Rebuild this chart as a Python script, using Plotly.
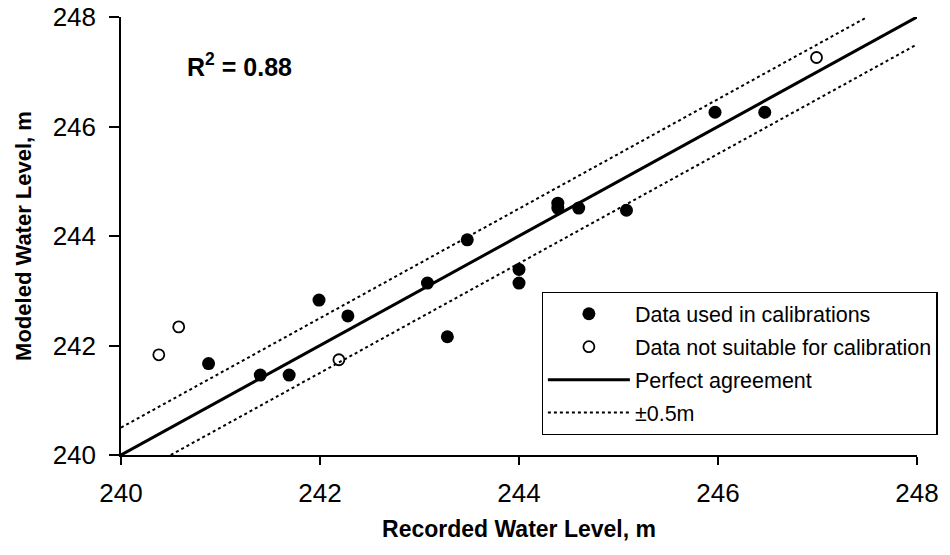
import plotly.graph_objects as go

# Calibration data (recorded vs modeled water level, m)
used_recorded = [240.88, 241.40, 241.69, 241.99, 242.28, 243.08, 243.28, 243.48,
                 244.00, 244.00, 244.39, 244.39, 244.60, 245.08, 245.97, 246.47]
used_modeled = [241.67, 241.46, 241.46, 242.83, 242.54, 243.14, 242.16, 243.93,
                243.39, 243.14, 244.60, 244.51, 244.51, 244.47, 246.26, 246.26]

unsuitable_recorded = [240.38, 240.58, 242.19, 246.99]
unsuitable_modeled = [241.83, 242.34, 241.74, 247.26]

perfect_x = [240, 248]
perfect_y = [240, 248]
tolerance = 0.5

x_ticks = [240, 242, 244, 246, 248]
y_ticks = [240, 242, 244, 246, 248]

FONT = "Liberation Sans, Arial, sans-serif"

fig = go.Figure()

fig.add_trace(go.Scatter(
    x=used_recorded, y=used_modeled, mode="markers",
    name="Data used in calibrations", legendgroup="a",
    marker=dict(symbol="circle", size=13, color="black"),
))
fig.add_trace(go.Scatter(
    x=unsuitable_recorded, y=unsuitable_modeled, mode="markers",
    name="Data not suitable for calibration", legendgroup="b",
    marker=dict(symbol="circle-open", size=11, color="black", line=dict(width=1.8)),
))
fig.add_trace(go.Scatter(
    x=perfect_x, y=perfect_y, mode="lines",
    name="Perfect agreement", legendgroup="c",
    line=dict(color="black", width=3),
))
# upper and lower tolerance bands
fig.add_trace(go.Scatter(
    x=[perfect_x[0], perfect_x[1] - tolerance],
    y=[perfect_y[0] + tolerance, perfect_y[1]],
    mode="lines", name="±0.5m", legendgroup="d",
    line=dict(color="black", width=2, dash="dot"),
))
fig.add_trace(go.Scatter(
    x=[perfect_x[0] + tolerance, perfect_x[1]],
    y=[perfect_y[0], perfect_y[1] - tolerance],
    mode="lines", name="±0.5m", legendgroup="d", showlegend=False,
    line=dict(color="black", width=2, dash="dot"),
))

fig.add_annotation(
    x=240.64, y=247.12, xref="x", yref="y", showarrow=False, xanchor="left",
    text="<b>R<sup>2</sup> = 0.88</b>", font=dict(family=FONT, size=25, color="black"),
)

axis_common = dict(
    showgrid=False, zeroline=False, showline=True, linecolor="black", linewidth=1.5,
    ticks="outside", tickcolor="black", tickwidth=1.5, automargin=False,
    tickfont=dict(family=FONT, size=26, color="black"),
)

fig.update_xaxes(
    range=[240, 248], tickvals=x_ticks, ticklen=8, ticklabelstandoff=6,
    title=dict(text="<b>Recorded Water Level, m</b>",
               font=dict(family=FONT, size=23, color="black"), standoff=14),
    **axis_common,
)
fig.update_yaxes(
    range=[240, 248], tickvals=y_ticks, ticklen=10, ticklabelstandoff=8,
    title=dict(text="<b>Modeled Water Level, m</b>",
               font=dict(family=FONT, size=22, color="black"), standoff=15),
    **axis_common,
)

fig.update_layout(
    width=950, height=555,
    margin=dict(l=121, r=27, t=17, b=100),
    plot_bgcolor="white", paper_bgcolor="white",
    font=dict(family=FONT, color="black"),
    legend=dict(
        x=1.026, y=0.372, xanchor="right", yanchor="top",
        bgcolor="white", bordercolor="black", borderwidth=1.2,
        font=dict(family=FONT, size=21.5, color="black"),
        tracegroupgap=2, itemwidth=82,
    ),
)

fig.write_html("out.html")
